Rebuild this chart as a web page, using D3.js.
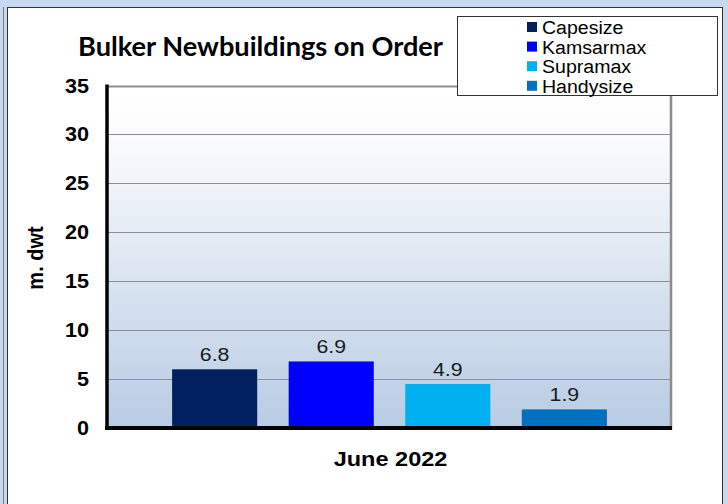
<!DOCTYPE html>
<html>
<head>
<meta charset="utf-8">
<script src="https://cdn.jsdelivr.net/npm/d3@7"></script>
<style>
  html, body { margin: 0; padding: 0; background: #c6d9f1; }
  svg { display: block; }
</style>
</head>
<body>
<div id="chart"></div>
<script>
// data
const categories = ['Capesize', 'Kamsarmax', 'Supramax', 'Handysize'];
const barValues = [6.0, 6.8, 4.5, 1.9];          // bar heights as drawn
const valueLabels = ['6.8', '6.9', '4.9', '1.9']; // labels printed above bars
const colors = ['#002060', '#0000ff', '#00b0f0', '#0070c0'];
const yTicks = [0, 5, 10, 15, 20, 25, 30, 35];
const title = 'Bulker Newbuildings on Order';
const yTitle = 'm. dwt';
const xTitle = 'June 2022';

const W = 728, H = 504;
const plot = { left: 108, right: 671, top: 85.5, bottom: 428 };
const font = 'Liberation Sans, Arial, sans-serif';

const svg = d3.select('#chart').append('svg')
    .attr('width', W)
    .attr('height', H);

// outer frame
svg.append('rect').attr('x', 0).attr('y', 0).attr('width', W).attr('height', H).attr('fill', '#c6d9f1');
svg.append('line').attr('x1', 3.5).attr('x2', 3.5).attr('y1', 7).attr('y2', H)
    .attr('stroke', '#7f7f7f').attr('stroke-width', 1);
svg.append('rect')
    .attr('x', 7.5).attr('y', 7.5)
    .attr('width', 715).attr('height', H)
    .attr('fill', '#fff')
    .attr('stroke', '#333')
    .attr('stroke-width', 1);

// the original's text is a bit wider than plain Arial, so stretch sideways
function stretchedText(g, x, y, str, sx) {
    return g.append('text')
        .attr('transform', `translate(${x},${y}) scale(${sx},1)`)
        .text(str);
}

// plot background gradient
const defs = svg.append('defs');
const grad = defs.append('linearGradient')
    .attr('id', 'plotBg')
    .attr('x1', 0).attr('y1', 0).attr('x2', 0).attr('y2', 1);
grad.append('stop').attr('offset', '0%').attr('stop-color', '#ffffff');
grad.append('stop').attr('offset', '12%').attr('stop-color', '#fdfdfe');
grad.append('stop').attr('offset', '100%').attr('stop-color', '#b8cce4');

const x = d3.scaleBand()
    .domain(categories)
    .range([plot.left, plot.right])
    .paddingInner(0.27)
    .paddingOuter(0.55);

const y = d3.scaleLinear()
    .domain([0, 35])
    .range([plot.bottom, plot.top]);

svg.append('rect')
    .attr('x', plot.left).attr('y', plot.top)
    .attr('width', plot.right - plot.left)
    .attr('height', plot.bottom - plot.top)
    .attr('fill', 'url(#plotBg)');

// gridlines
svg.append('g')
    .selectAll('line')
    .data(yTicks.filter(d => d > 0))
    .join('line')
    .attr('x1', plot.left).attr('x2', plot.right)
    .attr('y1', d => Math.round(y(d)) + 0.5)
    .attr('y2', d => Math.round(y(d)) + 0.5)
    .attr('stroke', '#8f8f8f')
    .attr('stroke-width', d => d === 35 ? 2 : 1);

// right edge shadow
svg.append('line')
    .attr('x1', plot.right).attr('x2', plot.right)
    .attr('y1', plot.top).attr('y2', plot.bottom + 2)
    .attr('stroke', '#8c8c8c').attr('stroke-width', 2.5);

// bars
svg.append('g')
    .selectAll('rect')
    .data(categories)
    .join('rect')
    .attr('x', d => x(d))
    .attr('y', (d, i) => y(barValues[i]))
    .attr('width', x.bandwidth())
    .attr('height', (d, i) => y(0) - y(barValues[i]))
    .attr('fill', (d, i) => colors[i]);

// value labels
const labels = svg.append('g')
    .attr('font-family', font)
    .attr('font-size', 19)
    .attr('fill', '#1a1a1a')
    .attr('text-anchor', 'middle');
categories.forEach((c, i) => {
    stretchedText(labels, x(c) + x.bandwidth() / 2, y(barValues[i]) - 8, valueLabels[i], 1.12);
});

// axes lines
svg.append('line')
    .attr('x1', plot.left - 1).attr('x2', plot.left - 1)
    .attr('y1', plot.top - 1).attr('y2', plot.bottom + 2)
    .attr('stroke', '#000').attr('stroke-width', 3.5);
svg.append('line')
    .attr('x1', plot.left - 3).attr('x2', plot.right + 1)
    .attr('y1', plot.bottom).attr('y2', plot.bottom)
    .attr('stroke', '#000').attr('stroke-width', 4);

// y tick labels
const yAxis = svg.append('g')
    .attr('font-family', font)
    .attr('font-size', 20)
    .attr('font-weight', 'bold')
    .attr('text-anchor', 'end');
yTicks.forEach(t => {
    stretchedText(yAxis, 89, y(t) + 7, t, 1.08);
});

// axis titles
svg.append('text')
    .attr('transform', 'translate(43,258) scale(1.08,1) rotate(-90)')
    .attr('text-anchor', 'middle')
    .attr('font-family', font)
    .attr('font-size', 20)
    .attr('font-weight', 'bold')
    .text(yTitle);

stretchedText(svg, (plot.left + plot.right) / 2 + 1, 466, xTitle, 1.12)
    .attr('text-anchor', 'middle')
    .attr('font-family', font)
    .attr('font-size', 21)
    .attr('font-weight', 'bold');

// title
svg.append('text')
    .attr('x', 78).attr('y', 56)
    .attr('font-family', 'Lato, Open Sans, sans-serif')
    .attr('font-size', 27)
    .attr('font-weight', 'bold')
    .attr('textLength', 365)
    .attr('lengthAdjust', 'spacingAndGlyphs')
    .text(title);

// legend
const legend = svg.append('g');
legend.append('rect')
    .attr('x', 457.5).attr('y', 16.5)
    .attr('width', 260).attr('height', 79)
    .attr('fill', '#fff')
    .attr('stroke', '#333')
    .attr('stroke-width', 1);
categories.forEach((c, i) => {
    const cy = 27 + i * 19.6;
    legend.append('rect')
        .attr('x', 527).attr('y', cy - 5)
        .attr('width', 10).attr('height', 10)
        .attr('fill', colors[i]);
    stretchedText(legend, 542, cy + 7, c, 1.03)
        .attr('font-family', font)
        .attr('font-size', 19);
});
</script>
</body>
</html>
